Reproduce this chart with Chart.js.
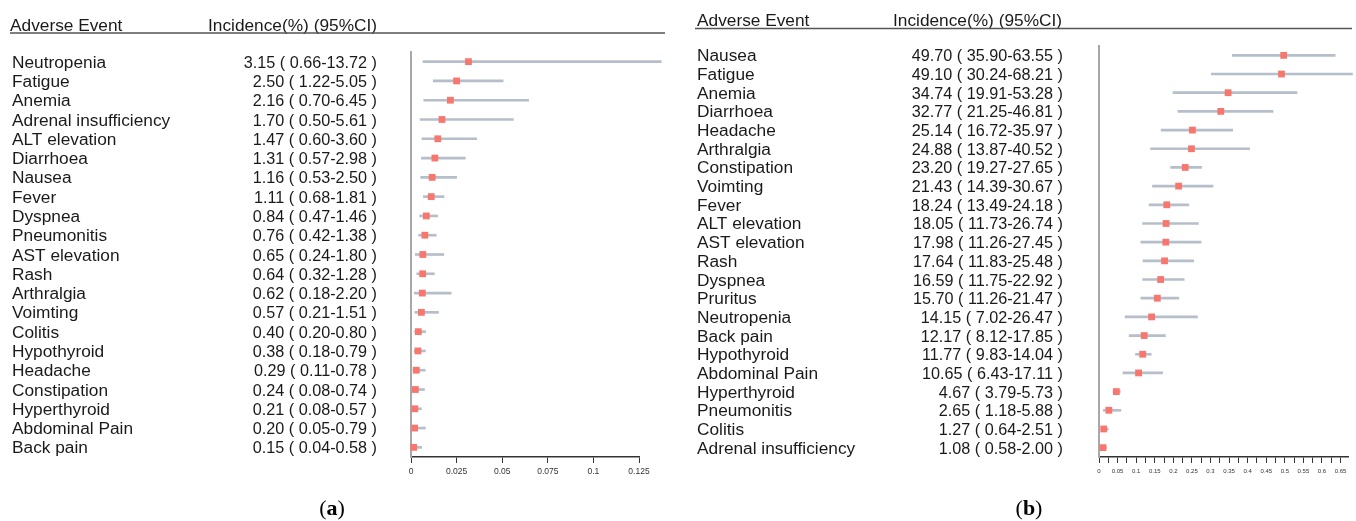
<!DOCTYPE html>
<html lang="en">
<head>
<meta charset="UTF-8">
<title>Adverse events forest plots</title>
<script src="https://cdn.jsdelivr.net/npm/chart.js"></script>
<style>
  body { margin: 0; background: #fff; }
  .panel { position: absolute; top: 0; width: 678px; height: 521px; }
  #panelA { left: 0; }
  #panelB { left: 678px; }
</style>
</head>
<body>
<div class="panel" id="panelA"><canvas id="chartA" width="678" height="521"></canvas></div>
<div class="panel" id="panelB"><canvas id="chartB" width="678" height="521"></canvas></div>
<script>
// (a) incidence in % with 95% CI
const eventsA = ['Neutropenia', 'Fatigue', 'Anemia', 'Adrenal insufficiency', 'ALT elevation', 'Diarrhoea',
  'Nausea', 'Fever', 'Dyspnea', 'Pneumonitis', 'AST elevation', 'Rash', 'Arthralgia', 'Voimting', 'Colitis',
  'Hypothyroid', 'Headache', 'Constipation', 'Hyperthyroid', 'Abdominal Pain', 'Back pain'];
const incA = [3.15, 2.50, 2.16, 1.70, 1.47, 1.31, 1.16, 1.11, 0.84, 0.76, 0.65, 0.64, 0.62, 0.57, 0.40, 0.38, 0.29, 0.24, 0.21, 0.20, 0.15];
const lowA = [0.66, 1.22, 0.70, 0.50, 0.60, 0.57, 0.53, 0.68, 0.47, 0.42, 0.24, 0.32, 0.18, 0.21, 0.20, 0.18, 0.11, 0.08, 0.08, 0.05, 0.04];
const highA = [13.72, 5.05, 6.45, 5.61, 3.60, 2.98, 2.50, 1.81, 1.46, 1.38, 1.80, 1.28, 2.20, 1.51, 0.80, 0.79, 0.78, 0.74, 0.57, 0.79, 0.58];
const ticksA = [0, 0.025, 0.05, 0.075, 0.1, 0.125];

// (b)
const eventsB = ['Nausea', 'Fatigue', 'Anemia', 'Diarrhoea', 'Headache', 'Arthralgia', 'Constipation', 'Voimting',
  'Fever', 'ALT elevation', 'AST elevation', 'Rash', 'Dyspnea', 'Pruritus', 'Neutropenia', 'Back pain',
  'Hypothyroid', 'Abdominal Pain', 'Hyperthyroid', 'Pneumonitis', 'Colitis', 'Adrenal insufficiency'];
const incB = [49.70, 49.10, 34.74, 32.77, 25.14, 24.88, 23.20, 21.43, 18.24, 18.05, 17.98, 17.64, 16.59, 15.70, 14.15, 12.17, 11.77, 10.65, 4.67, 2.65, 1.27, 1.08];
const lowB = [35.90, 30.24, 19.91, 21.25, 16.72, 13.87, 19.27, 14.39, 13.49, 11.73, 11.26, 11.83, 11.75, 11.26, 7.02, 8.12, 9.83, 6.43, 3.79, 1.18, 0.64, 0.58];
const highB = [63.55, 68.21, 53.28, 46.81, 35.97, 40.52, 27.65, 30.67, 24.18, 26.74, 27.45, 25.48, 22.92, 21.47, 26.47, 17.85, 14.04, 17.11, 5.73, 5.88, 2.51, 2.00];
const ticksB = [0, 0.025, 0.05, 0.075, 0.1, 0.125, 0.15, 0.175, 0.2, 0.225, 0.25, 0.275, 0.3, 0.325,
  0.35, 0.375, 0.4, 0.425, 0.45, 0.475, 0.5, 0.525, 0.55, 0.575, 0.6, 0.625, 0.65];

const SANS = '"Liberation Sans", Arial, sans-serif';
const SERIF = '"Liberation Serif", "DejaVu Serif", serif';
const fmt = v => v.toFixed(2);

function makePanel(id, p) {
  const sideText = {
    id: 'sideText',
    afterDraw(chart) {
      const ctx = chart.ctx;
      const y = chart.scales.y;
      ctx.save();
      ctx.fillStyle = '#1a1a1a';
      ctx.font = '17.3px ' + SANS;
      ctx.textBaseline = 'alphabetic';
      ctx.textAlign = 'left';
      ctx.fillText('Adverse Event', p.headX, p.headY);
      ctx.fillText('Incidence(%) (95%CI)', p.incHeadX, p.headY);
      ctx.strokeStyle = '#555';
      ctx.lineWidth = 1.5;
      ctx.beginPath();
      ctx.moveTo(p.ruleX0, p.headY + 2.5);
      ctx.lineTo(p.ruleX1, p.headY + 2.5);
      ctx.stroke();

      p.events.forEach((name, i) => {
        const py = y.getPixelForValue(i) + 6;
        ctx.textAlign = 'left';
        ctx.font = '17.3px ' + SANS;
        ctx.fillText(name, p.nameX, py);
        ctx.textAlign = 'right';
        ctx.font = '16.2px ' + SANS;
        ctx.fillText(fmt(p.inc[i]) + ' ( ' + fmt(p.low[i]) + '-' + fmt(p.high[i]) + ' )', p.incRight, py);
      });

      // panel letter: "(a)" with bold letter
      ctx.fillStyle = '#000';
      ctx.textAlign = 'left';
      const reg = '22px ' + SERIF, bold = 'bold 22px ' + SERIF;
      ctx.font = reg;
      const wp = ctx.measureText('(').width, wc = ctx.measureText(')').width;
      ctx.font = bold;
      const wl = ctx.measureText(p.letter).width;
      let x = p.letterX - (wp + wl + wc) / 2;
      ctx.font = reg; ctx.fillText('(', x, p.letterY); x += wp;
      ctx.font = bold; ctx.fillText(p.letter, x, p.letterY); x += wl;
      ctx.font = reg; ctx.fillText(')', x, p.letterY);
      ctx.restore();
    }
  };

  new Chart(document.getElementById(id), {
    type: 'bar',
    data: {
      labels: p.events,
      datasets: [
        {
          type: 'line',
          indexAxis: 'y',
          data: p.inc.map(v => v / 100),
          showLine: false,
          pointStyle: 'rect',
          pointRadius: 4.8,
          pointBackgroundColor: '#f7776e',
          pointBorderWidth: 0,
          clip: false,
          order: 0
        },
        {
          type: 'bar',
          indexAxis: 'y',
          data: p.low.map((v, i) => [v / 100, p.high[i] / 100]),
          backgroundColor: '#b5bec9',
          barThickness: 2,
          borderWidth: 0,
          clip: false,
          order: 1
        }
      ]
    },
    options: {
      indexAxis: 'y',
      responsive: false,
      animation: false,
      layout: { padding: p.padding },
      plugins: { legend: { display: false }, tooltip: { enabled: false } },
      scales: {
        x: {
          type: 'linear',
          min: 0,
          max: p.max,
          afterBuildTicks: s => { s.ticks = p.ticks.map(v => ({ value: v })); },
          afterFit: s => { s.height = 30; },
          grid: { drawOnChartArea: false, drawTicks: true, tickLength: 6, color: '#333', lineWidth: 1 },
          border: { color: '#333', width: 1.5 },
          ticks: {
            autoSkip: false,
            maxRotation: 0,
            color: '#333',
            padding: p.tickPad,
            font: { size: p.tickSize, family: SANS },
            callback: (v, i) => p.labelEvery && i % p.labelEvery ? '' : String(Number(v.toFixed(3)))
          }
        },
        y: {
          type: 'category',
          offset: true,
          grid: { display: false, drawTicks: false },
          ticks: { display: false },
          border: { color: '#a8a8a8', width: 2 }
        }
      }
    },
    plugins: [sideText]
  });
}

makePanel('chartA', {
  events: eventsA, inc: incA, low: lowA, high: highA, ticks: ticksA,
  max: 0.125, labelEvery: 1, tickSize: 8.5, tickPad: 4,
  padding: { left: 411, right: 39, top: 52, bottom: 34 },
  headX: 10, headY: 30.5, incHeadX: 208, ruleX0: 10, ruleX1: 665,
  nameX: 12, incRight: 377, letter: 'a', letterX: 332, letterY: 515
});

makePanel('chartB', {
  events: eventsB, inc: incB, low: lowB, high: highB, ticks: ticksB,
  max: 0.67, labelEvery: 2, tickSize: 6, tickPad: 5,
  padding: { left: 421, right: 8, top: 46, bottom: 34 },
  headX: 19, headY: 26, incHeadX: 215, ruleX0: 17, ruleX1: 674,
  nameX: 19, incRight: 385, letter: 'b', letterX: 351, letterY: 515
});
</script>
</body>
</html>
